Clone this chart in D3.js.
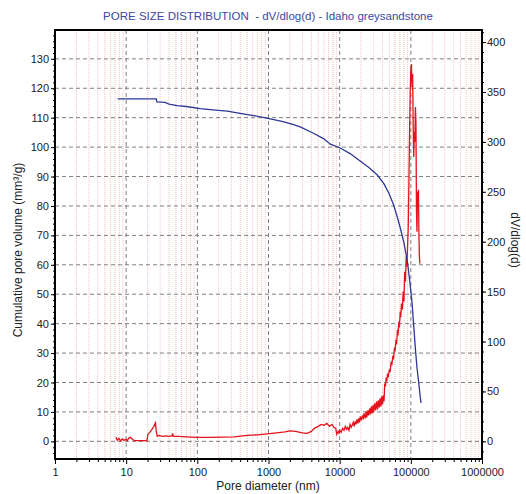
<!DOCTYPE html>
<html>
<head>
<meta charset="utf-8">
<script src="https://cdn.jsdelivr.net/npm/d3@7"></script>
<style>
  body { margin: 0; background: #fff; }
  text { font-family: "Liberation Sans", Arial, sans-serif; }
</style>
</head>
<body>
<div id="chart"></div>
<script>
// cumulative pore volume (left axis), [diameter nm, mm3/g]
const cumulative = [
  [7.6,116.4],[10,116.4],[20,116.4],[26.5,116.4],[27,115.4],[35,115.2],[40,114.6],
  [52,114.1],[70,113.8],[110,113.1],[180,112.6],[264,112.2],[400,111.5],[620,110.7],
  [1060,109.6],[1600,108.7],[2250,107.6],[2840,106.8],[4280,104.7],[6000,102.8],
  [7400,101],[10200,99.7],[14000,97.8],[19600,95.2],[26000,93],[33500,90.6],
  [42000,87.5],[49000,84.4],[57000,80.5],[64000,76.5],[72000,72],[80000,67.5],
  [90000,60.7],[97000,54],[104000,47.1],[110000,39],[116000,31.3],[122000,25],
  [129000,20],[135000,15.5],[139000,13.1]
];

// dV/dlog(d) (right axis), [diameter nm, value]
const dvdlogd = [
  [7.2,4],[7.5,1],[7.9,3],[8.3,0.5],[8.8,2.5],[9.3,1],[9.8,2],[10.3,0.5],[10.8,3],
  [11.5,4],[12.2,2],[13,0.8],[14.5,0.8],[16,0.8],[18,0.8],[19.6,0.8],[20.2,7],
  [21.5,9],[23,12],[24.5,15],[25.8,18.5],[26.5,10],[27.3,5],[29,6],[32,5],[36,5.5],
  [40,5],[44,5.5],[45,8],[46,5],[55,5],[70,4.5],[100,4],[150,4],[220,4.2],[330,4.5],
  [500,6],[700,6.5],[955,7.5],[1300,8.5],[1700,9.5],[2000,10.5],[2400,10],[3000,8.5],
  [3500,8],[4000,10],[4400,13],[5000,15],[5500,17],[6000,16],[6600,18],[7200,15],
  [7800,17],[8300,14],[8800,13],[9100,7],[9500,10],[9800,8],[10100,11],[10500,9],
  [11000,13],[11500,11],[12000,15],[12500,12],[13000,14],[13500,11],[14000,17],
  [14500,14],[15000,16],[15500,19],[16000,15],[16500,20],[17000,17],[17500,22],
  [18000,18],[18500,23],[19000,19],[19500,25],[20000,21],[21000,26],[21500,22],
  [22000,28],[23000,23],[23500,30],[24000,24],[25000,31],[25500,26],[26500,33],
  [27000,27],[28000,35],[28500,28],[29500,36],[30000,29],[31000,38],[32000,31],
  [33000,40],[34000,32],[35000,41],[36000,34],[37000,43],[38000,35],[39000,45],
  [40000,37],[41000,46],[42000,40],[43000,58],[44000,55],[45000,64],[46000,60],
  [47000,68],[48000,64],[50000,72],[51000,69],[53000,80],[54000,76],[56000,86],
  [57000,82],[59000,94],[60000,90],[62000,102],[63000,97],[65000,112],[66000,106],
  [68000,120],[69000,114],[71000,130],[72000,124],[74000,138],[76000,132],[78000,150],
  [80000,140],[82000,170],[84000,160],[86000,185],[88000,175],[90000,195],[92000,215],
  [94000,260],[96000,310],[98000,350],[100000,372],[102000,378],[104000,355],
  [106000,368],[108000,315],[110000,285],[112000,310],[114000,300],[116000,335],
  [118000,320],[120000,230],[122000,210],[124000,250],[126000,235],[128000,252],
  [130000,205],[132000,185],[134000,178]
];

const xTicks = [1,10,100,1000,10000,100000,1000000];
const leftTicks = [0,10,20,30,40,50,60,70,80,90,100,110,120,130];
const rightTicks = [0,50,100,150,200,250,300,350,400];

const width = 526, height = 494;
const pLeft = 55, pRight = 482, pTop = 30, pBottom = 459;

const svg = d3.select("#chart").append("svg")
  .attr("width", width)
  .attr("height", height);

let x = d3.scaleLog().domain([1, 1e6]).range([pLeft, pRight]);
let yL = d3.scaleLinear().domain([-6, 139.8]).range([pBottom, pTop]);
let yR = d3.scaleLinear().domain([-17.7, 412.1]).range([pBottom, pTop]);

// minor vertical grid (2..9 of each decade)
let minors = [];
for (let k = 0; k < 6; k++)
  for (let m = 2; m < 10; m++)
    minors.push(m * Math.pow(10, k));

svg.append("g").selectAll("line")
  .data(minors)
  .enter().append("line")
  .attr("x1", d => x(d)).attr("x2", d => x(d))
  .attr("y1", pTop).attr("y2", pBottom)
  .style("stroke", "#f1c2c2")
  .style("stroke-width", 1)
  .style("stroke-dasharray", "1,1");

// major grid
svg.append("g").selectAll("line")
  .data(xTicks.slice(1, -1))
  .enter().append("line")
  .attr("x1", d => x(d)).attr("x2", d => x(d))
  .attr("y1", pTop).attr("y2", pBottom)
  .style("stroke", "#808080")
  .style("stroke-dasharray", "4,3");

svg.append("g").selectAll("line")
  .data(leftTicks)
  .enter().append("line")
  .attr("x1", pLeft).attr("x2", pRight)
  .attr("y1", d => yL(d)).attr("y2", d => yL(d))
  .style("stroke", "#808080")
  .style("stroke-dasharray", "4,3");

// curves
let lineL = d3.line().x(d => x(d[0])).y(d => yL(d[1]));
let lineR = d3.line().x(d => x(d[0])).y(d => yR(d[1]));

svg.append("path")
  .datum(dvdlogd)
  .attr("d", lineR)
  .style("fill", "none")
  .style("stroke", "#e4121b")
  .style("stroke-width", 1.3);

svg.append("path")
  .datum(cumulative)
  .attr("d", lineL)
  .style("fill", "none")
  .style("stroke", "#2d3796")
  .style("stroke-width", 1.3);

// frame
svg.append("rect")
  .attr("x", pLeft).attr("y", pTop)
  .attr("width", pRight - pLeft).attr("height", pBottom - pTop)
  .style("fill", "none")
  .style("stroke", "#000")
  .style("stroke-width", 2);

// axes
let xAxis = d3.axisBottom(x).tickValues(xTicks).tickFormat(d3.format("d")).tickSize(5).tickPadding(4);
svg.append("g").attr("transform", `translate(0,${pBottom})`).call(xAxis);
svg.append("g").attr("transform", `translate(0,${pBottom})`)
  .call(d3.axisBottom(x).tickValues(minors).tickFormat("").tickSize(3));

let yLAxis = d3.axisLeft(yL).tickValues(leftTicks).tickSize(4).tickPadding(2);
svg.append("g").attr("transform", `translate(${pLeft},0)`).call(yLAxis);
svg.append("g").attr("transform", `translate(${pLeft},0)`)
  .call(d3.axisLeft(yL).tickValues(d3.range(-4, 140, 2)).tickFormat("").tickSize(2));

let yRAxis = d3.axisRight(yR).tickValues(rightTicks).tickSize(4).tickPadding(1);
svg.append("g").attr("transform", `translate(${pRight},0)`).call(yRAxis);
svg.append("g").attr("transform", `translate(${pRight},0)`)
  .call(d3.axisRight(yR).tickValues(d3.range(-10, 411, 10)).tickFormat("").tickSize(2));

svg.selectAll(".domain").remove();
svg.selectAll(".tick text").style("font-size", "11px").style("fill", "#222");

// titles
svg.append("text")
  .attr("x", 268).attr("y", 20)
  .attr("text-anchor", "middle")
  .style("font-size", "11.5px")
  .style("white-space", "pre")
  .style("fill", "#3a48a6")
  .text("PORE SIZE DISTRIBUTION  - dV/dlog(d) - Idaho greysandstone");

svg.append("text")
  .attr("x", 268).attr("y", 490)
  .attr("text-anchor", "middle")
  .style("font-size", "12px")
  .style("fill", "#222")
  .text("Pore diameter (nm)");

svg.append("text")
  .attr("transform", "translate(22,250) rotate(-90)")
  .attr("text-anchor", "middle")
  .style("font-size", "12px")
  .style("fill", "#222")
  .text("Cumulative pore volume (mm³/g)");

svg.append("text")
  .attr("transform", "translate(511,240) rotate(90)")
  .attr("text-anchor", "middle")
  .style("font-size", "12px")
  .style("fill", "#222")
  .text("dV/dlog(d)");
</script>
</body>
</html>
